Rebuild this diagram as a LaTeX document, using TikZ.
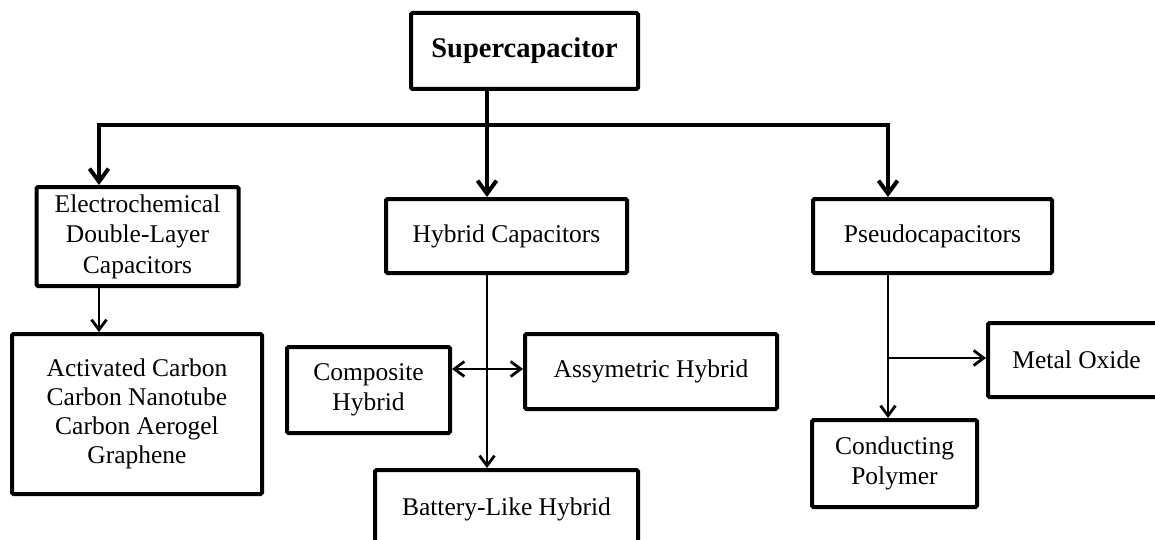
\documentclass[tikz,border=0pt]{standalone}
\usepackage{fontspec}
\setmainfont{Liberation Serif}
\usetikzlibrary{arrows.meta}
\begin{document}
\begin{tikzpicture}[x=1pt,y=-1pt,
  box/.style={draw, line width=4pt, rounded corners=1.5pt, align=center, inner sep=0pt,
    font=\fontsize{25.5}{30.5}\selectfont},
  topline/.style={line width=4pt},
  toptip/.style={-{Straight Barb[length=13pt,width=19pt]}},
  lowline/.style={line width=2.8pt},
  lowtip/.style={-{Straight Barb[length=10pt,width=15pt]}},
  bothtip/.style={{Straight Barb[length=10pt,width=15pt]}-{Straight Barb[length=10pt,width=15pt]}}
]
\useasboundingbox (0,0) rectangle (1155,540);
\clip (0,0) rectangle (1155,540);
\fill[white] (0,0) rectangle (1155,540);

\node[box, minimum width=227pt, minimum height=76pt, font=\fontsize{28.5}{32}\selectfont\bfseries] (sup) at (524.5,51) {Supercapacitor};
\node[box, minimum width=202pt, minimum height=99pt] (edl) at (137.5,236.5) {Electrochemical\\Double-Layer\\Capacitors};
\node[box, minimum width=241pt, minimum height=74pt] (hyb) at (506.5,236) {Hybrid Capacitors};
\node[box, minimum width=239pt, minimum height=74pt] (pse) at (932.5,236) {Pseudocapacitors};
\node[box, minimum width=250pt, minimum height=160pt, font=\fontsize{25.5}{29}\selectfont] (act) at (137,414) {Activated Carbon\\Carbon Nanotube\\Carbon Aerogel\\Graphene};
\node[box, minimum width=163pt, minimum height=86pt] (com) at (368.5,390) {Composite\\Hybrid};
\node[box, minimum width=252pt, minimum height=75pt] (asy) at (651,371.5) {Assymetric Hybrid};
\node[box, minimum width=263pt, minimum height=78pt] (bat) at (506.5,509) {Battery-Like Hybrid};
\node[box, minimum width=177pt, minimum height=74pt] (met) at (1076.5,360) {Metal Oxide};
\node[box, minimum width=165pt, minimum height=87pt] (con) at (894.5,463.5) {Conducting\\Polymer};

\coordinate (j) at (487,125);
\coordinate (jl) at (99,125);
\coordinate (jr) at (888,125);
\coordinate (hm) at (487,369);
\coordinate (pm) at (888,358);

\draw[topline] (sup.south -| j) -- (j);
\draw[topline,toptip] (j) -| (edl.north -| jl);
\draw[topline,toptip] (j) -| (pse.north -| jr);
\draw[topline,toptip] (j) -- (hyb.north -| j);

\draw[lowline,lowtip] (edl.south -| jl) -- (act.north -| jl);
\draw[lowline,lowtip] (hyb.south -| j) -- (bat.north -| j);
\draw[lowline,bothtip] (com.east |- hm) -- (asy.west |- hm);
\draw[lowline,lowtip] (pse.south -| jr) -- (con.north -| jr);
\draw[lowline,lowtip] (pm) -- (met.west |- pm);
\end{tikzpicture}
\end{document}
